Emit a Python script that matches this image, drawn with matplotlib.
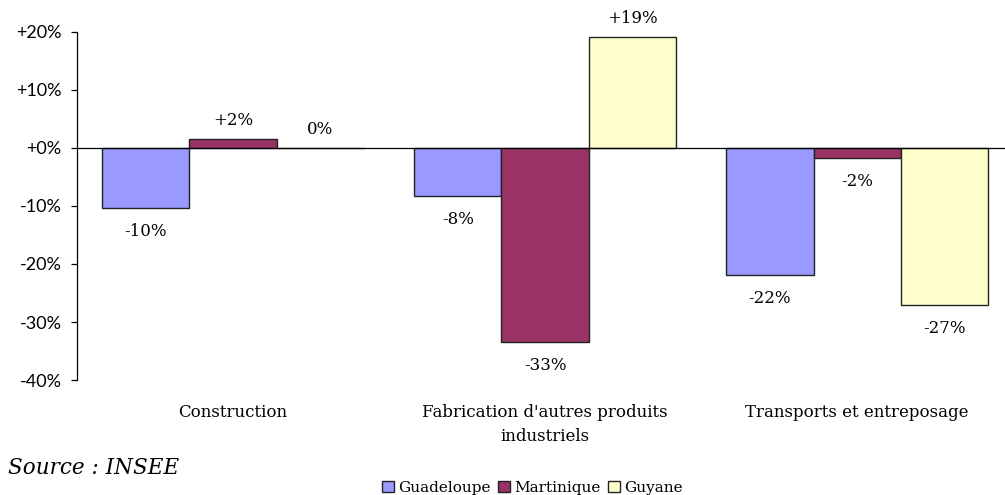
import matplotlib.pyplot as plt
import numpy as np

categories = ["Construction", "Fabrication d'autres produits\nindustriels", "Transports et entreposage"]
regions = ["Guadeloupe", "Martinique", "Guyane"]
guadeloupe = [-10.3, -8.3, -21.9]
martinique = [1.6, -33.4, -1.7]
guyane = [0.0, 19.1, -27.1]
yticks = [-40, -30, -20, -10, 0, 10, 20]

colors = ["#9999FF", "#993366", "#FFFFCC"]
serif = ["DejaVu Serif"]
sans = ["Lato", "DejaVu Sans"]


def fmt(v):
    r = round(v)
    if r == 0:
        return "0%"
    return f"{r:+d}%"


fig = plt.figure(figsize=(10.05, 4.95), dpi=100)
ax = fig.add_axes([0.0766, 0.2323, 0.9314, 0.7031])

x = np.arange(len(categories))
width = 0.279
series = [guadeloupe, martinique, guyane]
for i, (vals, col, name) in enumerate(zip(series, colors, regions)):
    pos = x + (i - 1) * width
    bars = ax.bar(pos, vals, width, color=col, edgecolor="#222222", linewidth=1.0, label=name, zorder=2)
    for b, v in zip(bars, vals):
        off = 7 if v >= 0 else -11
        ax.annotate(fmt(v), (b.get_x() + b.get_width() / 2, v), xytext=(0, off),
                    textcoords="offset points", ha="center",
                    va="bottom" if v >= 0 else "top", fontsize=12, family=serif)

ax.axhline(0, color="black", linewidth=0.9, zorder=3)
ax.set_xlim(-0.5, 2.5)
ax.set_ylim(-40, 20)
ax.set_yticks(yticks)
ax.set_yticklabels([f"{t:+d}%" for t in yticks], fontsize=13, family=sans)
ax.tick_params(axis="y", length=4, width=0.9, pad=7)
ax.set_xticks(x)
ax.set_xticklabels(categories, fontsize=12, family=serif, linespacing=1.55)
ax.tick_params(axis="x", length=0, pad=17)
for s in ["top", "right", "bottom"]:
    ax.spines[s].set_visible(False)
ax.spines["left"].set_linewidth(0.9)

fig.legend(loc="center", bbox_to_anchor=(0.53, 0.015), ncol=3, frameon=False,
           prop={"family": serif, "size": 11}, handlelength=0.75, handleheight=0.75,
           handletextpad=0.3, columnspacing=0.5)
fig.text(0.008, 0.055, "Source : INSEE", fontsize=15.5, style="italic", family=serif, va="center")

fig.savefig("out.png", dpi=100)
